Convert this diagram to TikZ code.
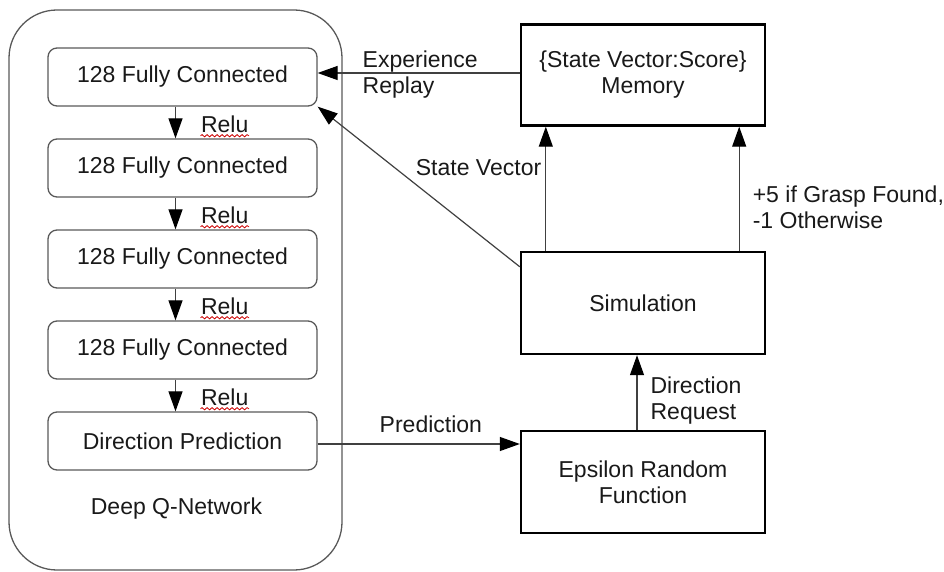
\documentclass[tikz,border=0pt]{standalone}
\usepackage{fontspec}
\setmainfont{Liberation Sans}
\usetikzlibrary{arrows.meta,positioning,decorations.pathmorphing}

\begin{document}
\begin{tikzpicture}[x=1pt,y=-1pt,node distance=91pt,on grid,
		font=\fontsize{23}{26}\selectfont,text=black!90,
		>={Triangle[length=20pt,width=14pt,color=black]},
		layer/.style={draw=black!65,line width=1.3pt,rounded corners=9pt,minimum width=269pt,minimum height=58pt},
		block/.style={draw=black,line width=2.4pt,minimum width=244pt,minimum height=102pt,align=center},
		every edge/.style={draw=black!75,line width=1.2pt},
		tag/.style={inner sep=0pt,align=left},
		squiggle/.style={draw=red!80!black,line width=0.8pt,decorate,decoration={snake,amplitude=1.1pt,segment length=5pt}}]
			\useasboundingbox (0,0) rectangle (944,572);
			% deep q-network
			\node[draw=black!65,line width=1.3pt,rounded corners=48pt,minimum width=333pt,minimum height=560pt] (dqn) at (175.5,290) {};
			\node[layer] (fc_1) at (182.5,77) {128 Fully Connected};
			\node[layer] (fc_2) [below=of fc_1] {128 Fully Connected};
			\node[layer] (fc_3) [below=of fc_2] {128 Fully Connected};
			\node[layer] (fc_4) [below=of fc_3] {128 Fully Connected};
			\node[layer] (out) [below=of fc_4] {Direction Prediction};
			\node (dqn_name) [below=68pt of out,xshift=-6pt] {Deep Q-Network};
			% environment side
			\node[block,minimum height=101pt] (memory) at (643,75) {\{State Vector:Score\}\\Memory};
			\node[block] (sim) at (643,303) {Simulation};
			\node[block] (eps) at (643,482) {Epsilon Random\\Function};
			\path[->]
			([xshift=-7pt]fc_1.south) edge node[tag,anchor=west,xshift=25pt,yshift=-2pt] (relu_1) {Relu} ([xshift=-7pt]fc_2.north)
			([xshift=-7pt]fc_2.south) edge node[tag,anchor=west,xshift=25pt,yshift=-2pt] (relu_2) {Relu} ([xshift=-7pt]fc_3.north)
			([xshift=-7pt]fc_3.south) edge node[tag,anchor=west,xshift=25pt,yshift=-2pt] (relu_3) {Relu} ([xshift=-7pt]fc_4.north)
			([xshift=-7pt]fc_4.south) edge node[tag,anchor=west,xshift=25pt,yshift=-2pt] (relu_4) {Relu} ([xshift=-7pt]out.north)
			([yshift=-3pt]out.east) edge node[tag,pos=0.56,anchor=south,yshift=11pt] {Prediction} ([yshift=-3pt]out.east -| eps.west)
			([xshift=-6pt]eps.north) edge node[tag,pos=0.39,anchor=west,xshift=13pt] {Direction\\Request} ([xshift=-6pt]sim.south)
			([xshift=26pt]sim.north west) edge node[tag,pos=0.67,anchor=east,xshift=-4pt] {State Vector} ([xshift=26pt]memory.south west)
			([xshift=-27pt]sim.north east) edge node[tag,pos=0.35,anchor=west,xshift=13pt] {+5 if Grasp Found,\\-1 Otherwise} ([xshift=-27pt]memory.south east)
			([yshift=-16pt]sim.north west) edge (fc_1.south east)
			([yshift=2pt]memory.west) edge node[tag,pos=0.78,anchor=west,yshift=-2pt] {Experience\\Replay} ([yshift=2pt]memory.west -| fc_1.east);
			% spell-check marks
			\foreach \r in {relu_1,relu_2,relu_3,relu_4}
				\draw[squiggle] ([yshift=-3pt]\r.base west) -- ([yshift=-3pt]\r.base east);
		\end{tikzpicture}
\end{document}
